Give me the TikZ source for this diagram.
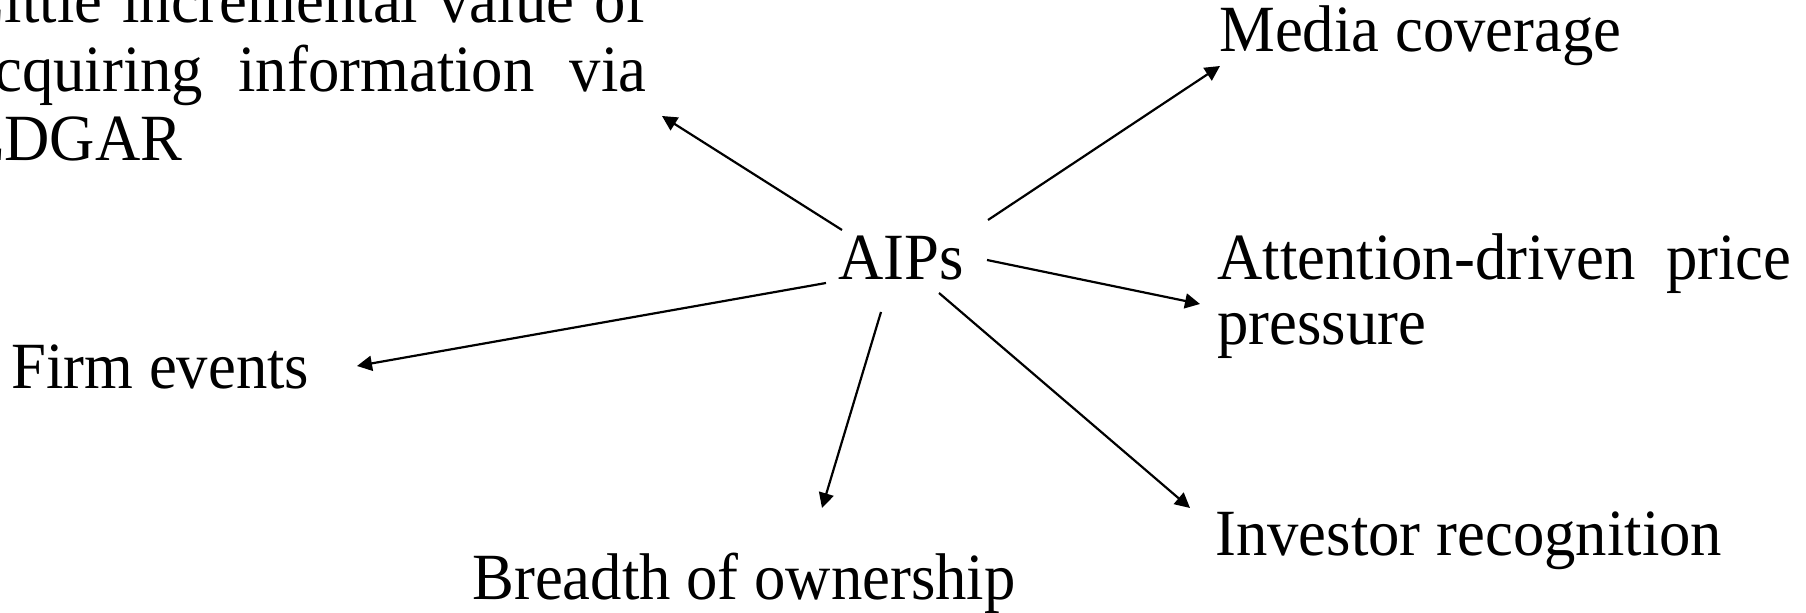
\documentclass[tikz,border=0pt]{standalone}
\usepackage{fontspec}
\setmainfont{Liberation Serif}[FakeStretch=0.95]
\usetikzlibrary{arrows.meta}
\begin{document}
\begin{tikzpicture}[x=0.5pt,y=-0.5pt,
  lbl/.style={anchor=base west,inner sep=0pt,font=\fontsize{33}{34.5}\selectfont},
  conn/.style={-{Triangle[length=7.5pt,width=7.5pt]},line width=1.1pt}]
\useasboundingbox (0,0) rectangle (1806,613);
\clip (0,0) rectangle (1806,613);
% nodes
\node[lbl] (aips) at (838,280) {AIPs};
\node[lbl] (little) at (-34,23) {\parbox[t]{340pt}{\fontsize{33}{34.5}\selectfont
  \makebox[340pt][s]{Little incremental value of}\par
  \makebox[340pt][s]{acquiring information via}\par
  EDGAR}};
\node[lbl] (media) at (1219,52) {Media coverage};
\node[lbl] (attn) at (1217,280) {\parbox[t]{287pt}{\fontsize{33}{32.5}\selectfont
  \makebox[287pt][s]{Attention-driven price}\par
  pressure}};
\node[lbl] (firm) at (11,389) {Firm events};
\node[lbl] (breadth) at (472,600) {Breadth of ownership};
\node[lbl] (investor) at (1215,556) {Investor recognition};
% connector end points
\coordinate (sLittle) at (842,230);   \coordinate (eLittle) at (662,116);
\coordinate (sMedia) at (988,220);    \coordinate (eMedia) at (1220,66);
\coordinate (sAttn) at (987,260);     \coordinate (eAttn) at (1200,304);
\coordinate (sFirm) at (826,283);     \coordinate (eFirm) at (357,366);
\coordinate (sBreadth) at (881,312);  \coordinate (eBreadth) at (822,508);
\coordinate (sInv) at (939,293);      \coordinate (eInv) at (1190,508);
% connectors
\draw[conn] (sLittle) -- (eLittle);
\draw[conn] (sMedia) -- (eMedia);
\draw[conn] (sAttn) -- (eAttn);
\draw[conn] (sFirm) -- (eFirm);
\draw[conn] (sBreadth) -- (eBreadth);
\draw[conn] (sInv) -- (eInv);
\end{tikzpicture}
\end{document}
